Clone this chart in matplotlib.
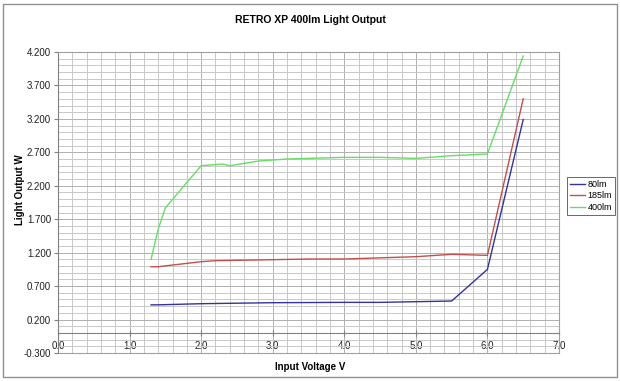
import matplotlib
matplotlib.use('Agg')
import matplotlib.pyplot as plt
from matplotlib.ticker import MultipleLocator, FormatStrFormatter
from matplotlib.patches import Rectangle

plt.rcParams['font.family'] = ['Liberation Sans', 'DejaVu Sans']

# 80lm
v_80 = [1.3, 1.4, 2.0, 3.0, 4.0, 4.5, 5.0, 5.5, 6.0, 6.5]
w_80 = [0.42, 0.42, 0.437, 0.452, 0.457, 0.457, 0.467, 0.477, 0.95, 3.19]

# 185lm
v_185 = [1.3, 1.4, 2.0, 2.2, 3.0, 3.5, 4.0, 5.0, 5.5, 6.0, 6.5]
w_185 = [0.99, 0.99, 1.065, 1.08, 1.095, 1.105, 1.105, 1.14, 1.175, 1.16, 3.50]

# 400lm
v_400 = [1.3, 1.4, 1.5, 2.0, 2.3, 2.4, 2.8, 3.2, 4.0, 4.5, 5.0, 5.5, 6.0, 6.5]
w_400 = [1.1, 1.55, 1.87, 2.5, 2.525, 2.5, 2.57, 2.6, 2.625, 2.625, 2.61, 2.65, 2.675, 4.14]

fig = plt.figure(figsize=(6.2, 3.81), dpi=100)
ax = fig.add_axes([58/620, 1-353/381, (559-58)/620, (353-52)/381])

line1 = ax.plot(v_80, w_80, color='#33339a', lw=1.0, label='80lm')
line2 = ax.plot(v_185, w_185, color='#c0504d', lw=1.0, label='185lm')
line3 = ax.plot(v_400, w_400, color='#66dd66', lw=1.0, label='400lm')

ax.set_xlim(0, 7)
ax.set_ylim(-0.3, 4.2)
ax.xaxis.set_major_locator(MultipleLocator(1.0))
ax.xaxis.set_minor_locator(MultipleLocator(0.2))
ax.yaxis.set_minor_locator(MultipleLocator(0.1))
ax.yaxis.set_major_formatter(FormatStrFormatter('%.3f'))
ax.xaxis.set_major_formatter(FormatStrFormatter('%.1f'))
ax.set_yticks([-0.3 + 0.5*i for i in range(10)])

ax.grid(True, which='major', color='#b0b0b0', lw=0.7)
ax.grid(True, which='minor', color='#c8c8c8', lw=0.7)
ax.set_axisbelow(True)

for s in ['top', 'right']:
    ax.spines[s].set_color('#a0a0a0')
    ax.spines[s].set_linewidth(0.8)
ax.spines['left'].set_color('#808080')
ax.spines['left'].set_linewidth(0.8)
ax.spines['bottom'].set_position(('data', 0))
ax.spines['bottom'].set_color('#808080')
ax.spines['bottom'].set_linewidth(0.8)
ax.axhline(-0.3, color='#a0a0a0', lw=0.8, clip_on=False)

ax.tick_params(axis='both', which='major', labelsize=7, color='#808080', length=3,
               labelcolor='#202020')
ax.tick_params(axis='both', which='minor', length=0)
ax.tick_params(axis='y', which='major', pad=2)
ax.tick_params(axis='x', which='major', direction='inout', length=4, pad=4)

fig.text(0.5, 1-20/381, 'RETRO XP 400lm Light Output', ha='center', va='center',
         fontsize=7.5, fontweight='bold')
fig.text(310/620, 1-367/381, 'Input Voltage V', ha='center', va='center',
         fontsize=7, fontweight='bold')
fig.text(20/620, 1-190/381, 'Light Output W', ha='center', va='center',
         rotation=90, fontsize=7, fontweight='bold')

lines = line1 + line2 + line3
labels = [l.get_label() for l in lines]
leg = fig.legend(lines, labels, loc='center left', bbox_to_anchor=(567/620, 1-196/381),
                 fontsize=6.5, handlelength=1.6, handletextpad=0.3, borderpad=0.35,
                 labelspacing=0.25, fancybox=False, frameon=True, borderaxespad=0)
leg.get_frame().set_edgecolor('#404040')
leg.get_frame().set_linewidth(0.7)

fig.patches.append(Rectangle((3/620, 4/381), 614/620, 373/381, transform=fig.transFigure,
                             fill=False, edgecolor='#909090', lw=1.0))

fig.savefig('out.png', dpi=100)
